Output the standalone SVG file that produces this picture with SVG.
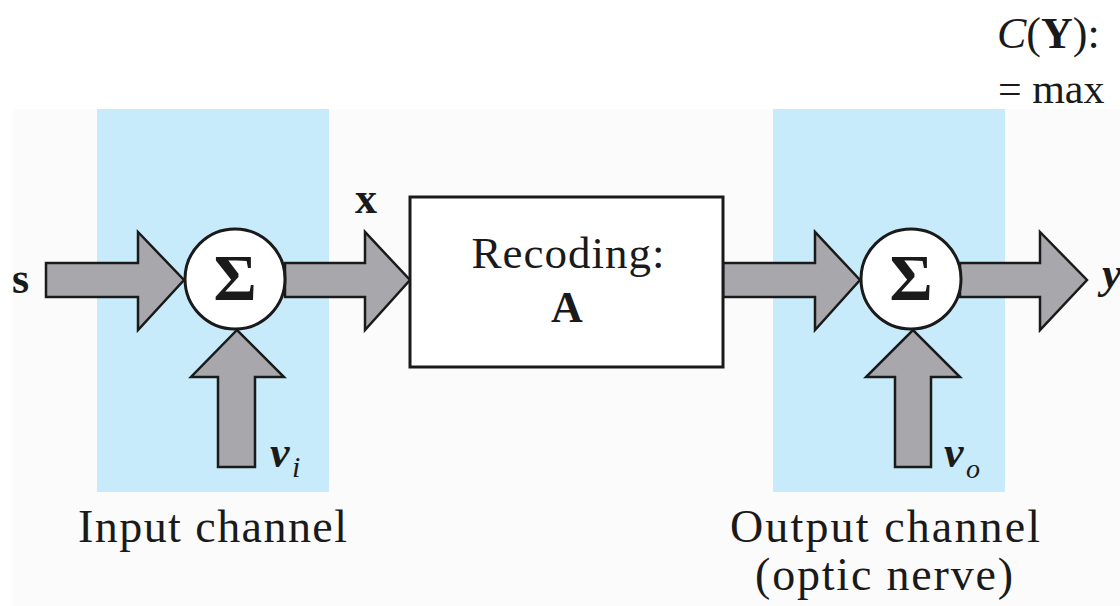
<svg xmlns="http://www.w3.org/2000/svg" width="1120" height="606" viewBox="0 0 1120 606" font-family="'Liberation Serif', 'Times New Roman', serif">
  <style>
    text { fill: #1a1a1a; }
    .channel { fill: #c8ebfb; }
    .arrow { fill: #a8a8ac; stroke: #1a1a1a; stroke-width: 2.5; stroke-linejoin: miter; }
    .sum { fill: #ffffff; stroke: #1a1a1a; stroke-width: 3; }
    .box { fill: #ffffff; stroke: #1a1a1a; stroke-width: 3; }
  </style>

  <rect x="0" y="0" width="1120" height="606" fill="#ffffff"/>
  <rect x="13" y="109" width="1107" height="497" fill="#fbfbfb"/>

  <!-- channel backgrounds -->
  <rect class="channel" x="97" y="109" width="232" height="383"/>
  <rect class="channel" x="773" y="109" width="232" height="383"/>

  <!-- block arrows -->
  <g id="connectors">
    <polygon class="arrow" points="46,263 138,263 138,232 184,280 138,330 138,297 46,297"/>
    <polygon class="arrow" points="285,263 365,263 365,232 410,280 365,330 365,297 285,297"/>
    <polygon class="arrow" points="218,467 218,377 191,377 237,330 284,377 255,377 255,467"/>
    <polygon class="arrow" points="723,263 815,263 815,232 860,280 815,330 815,297 723,297"/>
    <polygon class="arrow" points="960,263 1040,263 1040,232 1087,280 1040,330 1040,297 960,297"/>
    <polygon class="arrow" points="895,467 895,377 866,377 913,330 960,377 931,377 931,467"/>
  </g>

  <g id="sum-in">
    <circle class="sum" cx="235" cy="279" r="50"/>
    <text x="235" y="300" text-anchor="middle" font-family="Liberation Serif" font-size="66" font-weight="bold">Σ</text>
  </g>

  <g id="recoding">
    <rect class="box" x="410" y="197" width="313" height="170"/>
    <text x="568" y="268" text-anchor="middle" font-family="Liberation Serif" font-size="45" textLength="193" lengthAdjust="spacing">Recoding:</text>
    <text x="567" y="322" text-anchor="middle" font-family="Liberation Serif" font-size="44" font-weight="bold">A</text>
  </g>

  <g id="sum-out">
    <circle class="sum" cx="911" cy="279" r="50"/>
    <text x="911" y="300" text-anchor="middle" font-family="Liberation Serif" font-size="66" font-weight="bold">Σ</text>
  </g>

  <!-- signal labels -->
  <g id="labels" font-family="Liberation Serif" font-size="44" font-weight="bold">
    <text x="12" y="293">s</text>
    <text x="355" y="213">x</text>
    <text x="1102" y="288" font-style="italic">y</text>
    <text x="270" y="467" font-style="italic">v</text>
    <text x="292" y="477" font-size="30" font-weight="normal" font-style="italic">i</text>
    <text x="944" y="467" font-style="italic">v</text>
    <text x="966" y="478" font-size="28" font-weight="normal" font-style="italic">o</text>
  </g>

  <g id="captions" font-family="Liberation Serif" font-size="46">
    <text x="78" y="542" textLength="269" lengthAdjust="spacing">Input channel</text>
    <text x="730" y="542" textLength="310" lengthAdjust="spacing">Output channel</text>
    <text x="755" y="590" textLength="258" lengthAdjust="spacing">(optic nerve)</text>
  </g>

  <g id="capacity" font-family="Liberation Serif">
    <text x="997" y="48" font-size="44"><tspan font-style="italic">C</tspan>(<tspan font-weight="bold">Y</tspan>):</text>
    <text x="998" y="103" font-size="42">= max</text>
  </g>
</svg>
